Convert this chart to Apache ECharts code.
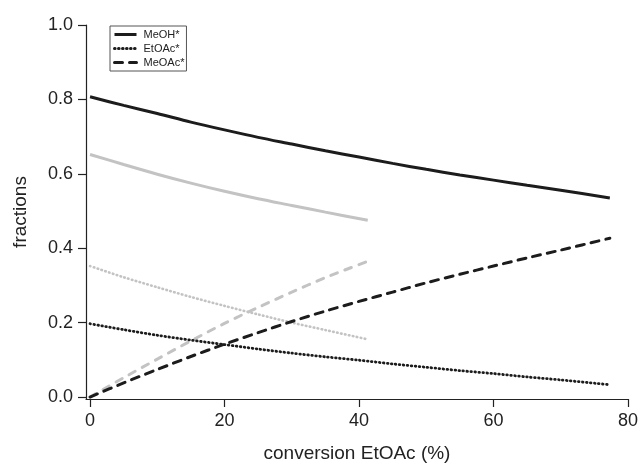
<!DOCTYPE html>
<html>
<head>
<meta charset="utf-8">
<script src="https://cdn.jsdelivr.net/npm/echarts@6/dist/echarts.min.js"></script>
<style>html,body{margin:0;padding:0;background:#fff}#c{width:642px;height:468px}</style>
</head>
<body>
<div id="c"></div>
<script>
// ---- data ----
var xLong = [0, 5, 10, 15, 20, 25, 30, 35, 40, 45, 50, 55, 60, 65, 70, 77.3];
var meohBlack  = [0.807, 0.784, 0.762, 0.739, 0.718, 0.698, 0.680, 0.662, 0.645, 0.628, 0.612, 0.597, 0.583, 0.569, 0.556, 0.535];
var etoacBlack = [0.197, 0.181, 0.166, 0.153, 0.141, 0.129, 0.118, 0.108, 0.099, 0.089, 0.080, 0.071, 0.063, 0.054, 0.046, 0.033];
var meoacBlack = [0.000, 0.038, 0.074, 0.109, 0.142, 0.173, 0.203, 0.231, 0.257, 0.282, 0.307, 0.330, 0.352, 0.374, 0.395, 0.427];
var xShort = [0, 5, 10, 15, 20, 25, 30, 35, 41.3];
var meohGray  = [0.652, 0.625, 0.599, 0.575, 0.553, 0.533, 0.515, 0.497, 0.475];
var etoacGray = [0.352, 0.322, 0.295, 0.269, 0.245, 0.222, 0.200, 0.180, 0.155];
var meoacGray = [0.000, 0.052, 0.102, 0.151, 0.198, 0.241, 0.282, 0.321, 0.365];
var xTicks = [0, 20, 40, 60, 80];
var yTicks = [0, 0.2, 0.4, 0.6, 0.8, 1.0];
var legendNames = ['MeOH*', 'EtOAc*', 'MeOAc*'];

function pairs(xs, ys) { return xs.map(function (x, i) { return [x, ys[i]]; }); }

var FONT = 'Liberation Sans, Arial, sans-serif';
var BLACK = '#1c1c1c', GRAY = '#c3c3c3';
var DOT = [0.6, 3.4];

function mk(name, xs, ys, color, type, width, z) {
  return {
    name: name, type: 'line', data: pairs(xs, ys), showSymbol: false, symbol: 'none',
    smooth: 0.3, z: z, silent: true,
    lineStyle: { color: color, width: width, type: type, cap: type === 'solid' ? 'butt' : 'round' },
    itemStyle: { color: color }
  };
}

var chart = echarts.init(document.getElementById('c'), null, { renderer: 'canvas' });
chart.setOption({
  animation: false,
  backgroundColor: '#fff',
  grid: { left: 86, right: 14, top: 25, bottom: 63, containLabel: false },
  legend: {
    data: legendNames,
    orient: 'vertical', left: 110, top: 26,
    itemWidth: 22, itemHeight: 10, itemGap: 3,
    padding: [3, 2, 3, 3],
    borderColor: '#555', borderWidth: 1, backgroundColor: '#fff',
    itemStyle: { color: 'rgba(0,0,0,0)', borderWidth: 0, opacity: 0 },
    lineStyle: { width: 3, opacity: 1 },
    textStyle: { fontFamily: FONT, fontSize: 11, color: '#222', padding: [0, 0, 0, 2] },
    selectedMode: false
  },
  xAxis: {
    type: 'value', min: -0.6, max: 80,
    name: 'conversion EtOAc (%)', nameLocation: 'middle', nameGap: 45,
    nameTextStyle: { fontFamily: FONT, fontSize: 19, color: '#222' },
    axisLine: { show: true, onZero: false, lineStyle: { color: '#222', width: 1.2 } },
    axisTick: { show: true, customValues: xTicks, length: 8, inside: false, lineStyle: { color: '#222', width: 1.2 } },
    axisLabel: { customValues: xTicks, fontFamily: FONT, fontSize: 18, color: '#222', margin: 13 },
    splitLine: { show: false }
  },
  yAxis: {
    type: 'value', min: -0.0053, max: 1,
    name: 'fractions', nameLocation: 'middle', nameGap: 56,
    nameTextStyle: { fontFamily: FONT, fontSize: 19, color: '#222' },
    axisLine: { show: true, onZero: false, lineStyle: { color: '#222', width: 1.2 } },
    axisTick: { show: true, customValues: yTicks, length: 8, inside: false, lineStyle: { color: '#222', width: 1.2 } },
    axisLabel: { customValues: yTicks, fontFamily: FONT, fontSize: 18, color: '#222', margin: 13,
      formatter: function (v) { return v.toFixed(1); } },
    splitLine: { show: false }
  },
  series: [
    mk('gray MeOH', xShort, meohGray, GRAY, 'solid', 3, 1),
    mk('gray EtOAc', xShort, etoacGray, GRAY, DOT, 2.6, 1),
    mk('gray MeOAc', xShort, meoacGray, GRAY, [7, 8], 3, 1),
    mk('MeOH*', xLong, meohBlack, BLACK, 'solid', 3, 2),
    mk('EtOAc*', xLong, etoacBlack, BLACK, DOT, 2.8, 2),
    mk('MeOAc*', xLong, meoacBlack, BLACK, [8, 7], 3, 2)
  ]
});
</script>
</body>
</html>
